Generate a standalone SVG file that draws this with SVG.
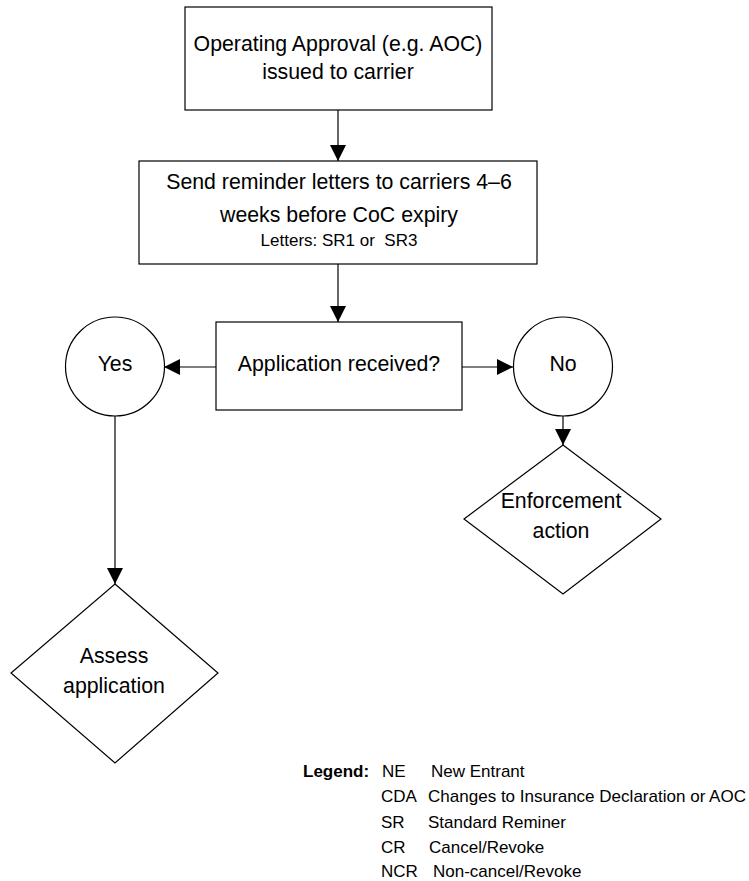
<svg xmlns="http://www.w3.org/2000/svg" width="749" height="881" viewBox="0 0 749 881">
<style>
  .shape { fill: #ffffff; stroke: #000000; stroke-width: 1.2; }
  .edge { fill: none; stroke: #000000; stroke-width: 1.2; }
  .t { font-family: "Liberation Sans", Arial, sans-serif; font-size: 21.3px; fill: #000000; text-anchor: middle; }
  .s { font-family: "Liberation Sans", Arial, sans-serif; font-size: 17px; fill: #000000; }
  .b { font-weight: bold; }
</style>
<defs>
  <marker id="arrow" markerUnits="userSpaceOnUse" markerWidth="16" markerHeight="16" refX="16" refY="8" orient="auto">
    <path d="M0,0 L16,8 L0,16 z" fill="#000000"/>
  </marker>
</defs>
<rect width="749" height="881" fill="#ffffff"/>

<g id="connectors">
  <line class="edge" x1="338" y1="110" x2="338" y2="161" marker-end="url(#arrow)"/>
  <line class="edge" x1="338" y1="264" x2="338" y2="322" marker-end="url(#arrow)"/>
  <line class="edge" x1="216" y1="367" x2="164" y2="367" marker-end="url(#arrow)"/>
  <line class="edge" x1="462" y1="367" x2="513" y2="367" marker-end="url(#arrow)"/>
  <line class="edge" x1="115" y1="416" x2="115" y2="584" marker-end="url(#arrow)"/>
  <line class="edge" x1="563" y1="416" x2="563" y2="445" marker-end="url(#arrow)"/>
</g>

<g id="node-approval">
  <rect class="shape" x="185" y="7" width="307" height="103"/>
  <text class="t" x="338" y="51">Operating Approval (e.g. AOC)</text>
  <text class="t" x="338" y="79">issued to carrier</text>
</g>

<g id="node-reminder">
  <rect class="shape" x="139" y="161" width="398" height="103"/>
  <text class="t" x="339" y="189">Send reminder letters to carriers 4–6</text>
  <text class="t" x="339" y="222">weeks before CoC expiry</text>
  <text class="s" x="339" y="246" text-anchor="middle" xml:space="preserve">Letters: SR1 or  SR3</text>
</g>

<g id="node-received">
  <rect class="shape" x="216" y="322" width="246" height="88"/>
  <text class="t" x="339" y="371">Application received?</text>
</g>

<g id="node-yes">
  <circle class="shape" cx="115" cy="366.5" r="49.5"/>
  <text class="t" x="115" y="371">Yes</text>
</g>

<g id="node-no">
  <circle class="shape" cx="563" cy="366.5" r="49.5"/>
  <text class="t" x="563" y="371">No</text>
</g>

<g id="node-assess">
  <polygon class="shape" points="115,584 218,673 115,763 11,673"/>
  <text class="t" x="114" y="663">Assess</text>
  <text class="t" x="114" y="693">application</text>
</g>

<g id="node-enforcement">
  <polygon class="shape" points="563,445 661,519 563,594 464,519"/>
  <text class="t" x="561" y="508">Enforcement</text>
  <text class="t" x="561" y="538">action</text>
</g>

<g id="legend">
  <text class="s b" x="303" y="777">Legend:</text>
  <text class="s" x="382" y="777">NE</text>
  <text class="s" x="431" y="777">New Entrant</text>
  <text class="s" x="381" y="802">CDA</text>
  <text class="s" x="428" y="802" textLength="318" lengthAdjust="spacingAndGlyphs">Changes to Insurance Declaration or AOC</text>
  <text class="s" x="381" y="828">SR</text>
  <text class="s" x="428" y="828">Standard Reminer</text>
  <text class="s" x="381" y="853">CR</text>
  <text class="s" x="429" y="853">Cancel/Revoke</text>
  <text class="s" x="381" y="877">NCR</text>
  <text class="s" x="433" y="877">Non-cancel/Revoke</text>
</g>
</svg>
